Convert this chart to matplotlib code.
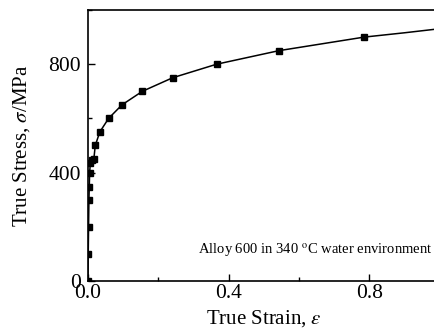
import numpy as np
import matplotlib
matplotlib.use("Agg")
import matplotlib.pyplot as plt
from matplotlib.ticker import MultipleLocator

strain = [0.0, 0.001, 0.002, 0.003, 0.004, 0.005, 0.007, 0.012, 0.017, 0.021,
          0.034, 0.059, 0.097, 0.155, 0.241, 0.366, 0.543, 0.785]
stress = [0, 100, 200, 300, 347, 400, 435, 445, 450, 500,
          550, 600, 650, 700, 750, 800, 850, 900]
# curve segment beyond the last marker
tail_strain = [0.785, 0.9, 1.0]
tail_stress = [900, 916, 931]

plt.rcParams['font.family'] = ['Liberation Serif', 'DejaVu Serif']
plt.rcParams['mathtext.fontset'] = 'stix'

fig = plt.figure(figsize=(4.35, 3.34), dpi=100)
ax = fig.add_axes([0.202, 0.159, 0.809, 0.811])

ax.plot(strain, stress, '-', color='black', lw=1.1, marker='s', ms=5, mfc='black', mec='black')
ax.plot(tail_strain, tail_stress, '-', color='black', lw=1.1)

ax.set_xlim(0, 1.0)
ax.set_ylim(0, 1000)
ax.xaxis.set_major_locator(MultipleLocator(0.4))
ax.xaxis.set_minor_locator(MultipleLocator(0.2))
ax.yaxis.set_major_locator(MultipleLocator(400))
ax.yaxis.set_minor_locator(MultipleLocator(200))
ax.tick_params(which='both', direction='in', labelsize=15.5)
ax.tick_params(axis='y', pad=5)
ax.tick_params(axis='x', pad=2)
ax.tick_params(which='major', length=5, width=1)
ax.tick_params(which='minor', length=3, width=1)
ax.xaxis.set_major_formatter(matplotlib.ticker.FormatStrFormatter('%.1f'))
for s in ax.spines.values():
    s.set_linewidth(1.2)

ax.set_xlabel(r'True Strain, $\varepsilon$', fontsize=15, labelpad=4)
ax.set_ylabel(r'True Stress, $\sigma$/MPa', fontsize=15, labelpad=12)
ax.text(0.98, 114, r'Alloy 600 in 340 $^{\rm o}$C water environment', fontsize=10.5,
        ha='right', va='center')

fig.savefig('out.png', dpi=100)
